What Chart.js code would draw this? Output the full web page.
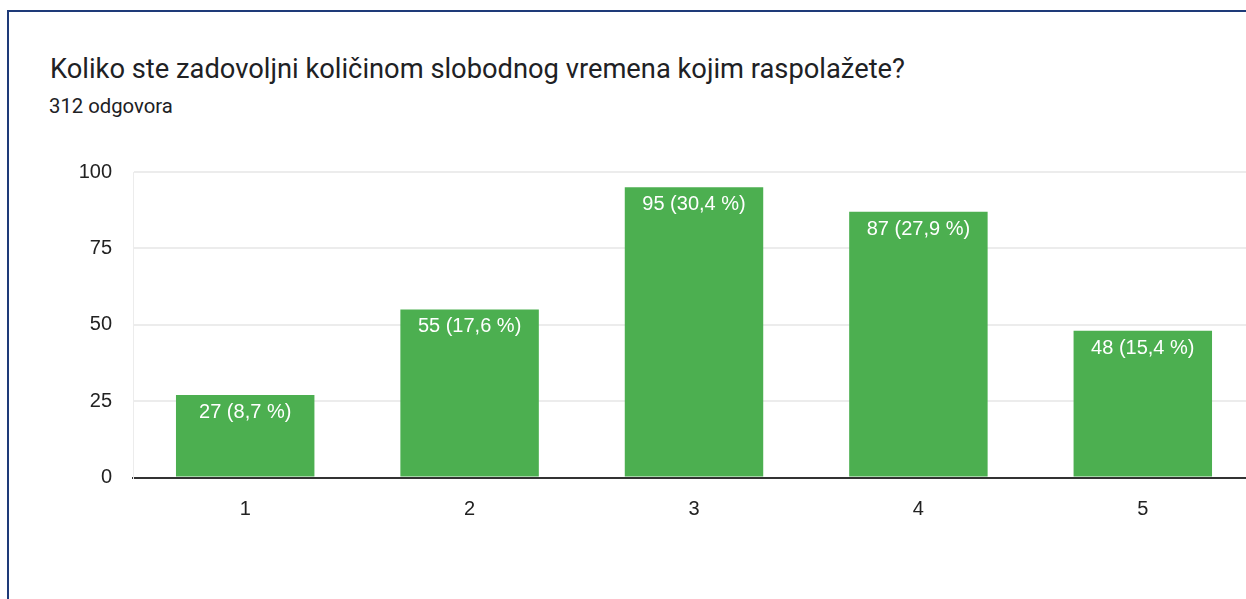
<!DOCTYPE html>
<html lang="hr">
<head>
  <meta charset="UTF-8">
  <title>Koliko ste zadovoljni količinom slobodnog vremena</title>
  <style>
    html, body { margin: 0; padding: 0; background: #fff; overflow: hidden; width: 1246px; height: 599px; }
    .okvir { position: absolute; left: 7px; top: 10px; width: 1300px; height: 700px;
             border-top: 2px solid #1e3a78; border-left: 2px solid #1e3a78; }
    .naslov { position: absolute; left: 50px; top: 56px; font-family: Roboto, sans-serif;
              font-size: 27.3px; line-height: 27px; color: #202124; white-space: nowrap; }
    .podnaslov { position: absolute; left: 49px; top: 96px; font-family: Roboto, sans-serif;
                 font-size: 20.3px; line-height: 20px; color: #202124; }
    #chart { position: absolute; left: 0; top: 0; }
  </style>
</head>
<body>
  <div class="okvir"></div>
  <div class="naslov">Koliko ste zadovoljni količinom slobodnog vremena kojim raspolažete?</div>
  <div class="podnaslov">312 odgovora</div>
  <canvas id="chart" width="1255" height="599"></canvas>

  <script src="https://cdn.jsdelivr.net/npm/chart.js"></script>
  <script>
    const kategorije = ['1', '2', '3', '4', '5'];
    const odgovori = [27, 55, 95, 87, 48];
    const postoci = ['8,7 %', '17,6 %', '30,4 %', '27,9 %', '15,4 %'];
    const yTickovi = [0, 25, 50, 75, 100];

    // bijeli natpisi unutar stupaca
    const natpisi = {
      id: 'natpisi',
      afterDatasetsDraw(chart) {
        const ctx = chart.ctx;
        const meta = chart.getDatasetMeta(0);
        ctx.save();
        ctx.fillStyle = '#ffffff';
        ctx.font = '20px "Liberation Sans", Arial, sans-serif';
        ctx.textAlign = 'center';
        ctx.textBaseline = 'alphabetic';
        meta.data.forEach((bar, i) => {
          ctx.fillText(`${odgovori[i]} (${postoci[i]})`, bar.x, bar.y + 23);
        });
        ctx.restore();
      }
    };

    const ctx = document.getElementById('chart').getContext('2d');
    new Chart(ctx, {
      type: 'bar',
      data: {
        labels: kategorije,
        datasets: [{
          data: odgovori,
          backgroundColor: '#4caf50',
          borderWidth: 0,
          categoryPercentage: 1,
          barPercentage: 0.617
        }]
      },
      options: {
        responsive: false,
        animation: false,
        devicePixelRatio: 1,
        layout: { padding: { top: 172, right: 0, bottom: 0, left: 0 } },
        plugins: { legend: { display: false }, tooltip: { enabled: false } },
        scales: {
          x: {
            grid: { display: false },
            border: { color: '#333333', width: 2 },
            ticks: { color: '#222222', padding: 12, font: { family: '"Liberation Sans", Arial', size: 20 } },
            afterFit(scale) { scale.height = 121.5; }
          },
          y: {
            min: 0,
            max: 100,
            afterBuildTicks(scale) { scale.ticks = yTickovi.map(v => ({ value: v })); },
            grid: { color: '#ececec', lineWidth: 2, drawTicks: false },
            border: { color: '#ececec', width: 1 },
            ticks: { color: '#222222', padding: 21, font: { family: '"Liberation Sans", Arial', size: 20 } },
            afterFit(scale) { scale.width = 133; }
          }
        }
      },
      plugins: [natpisi]
    });
  </script>
</body>
</html>
